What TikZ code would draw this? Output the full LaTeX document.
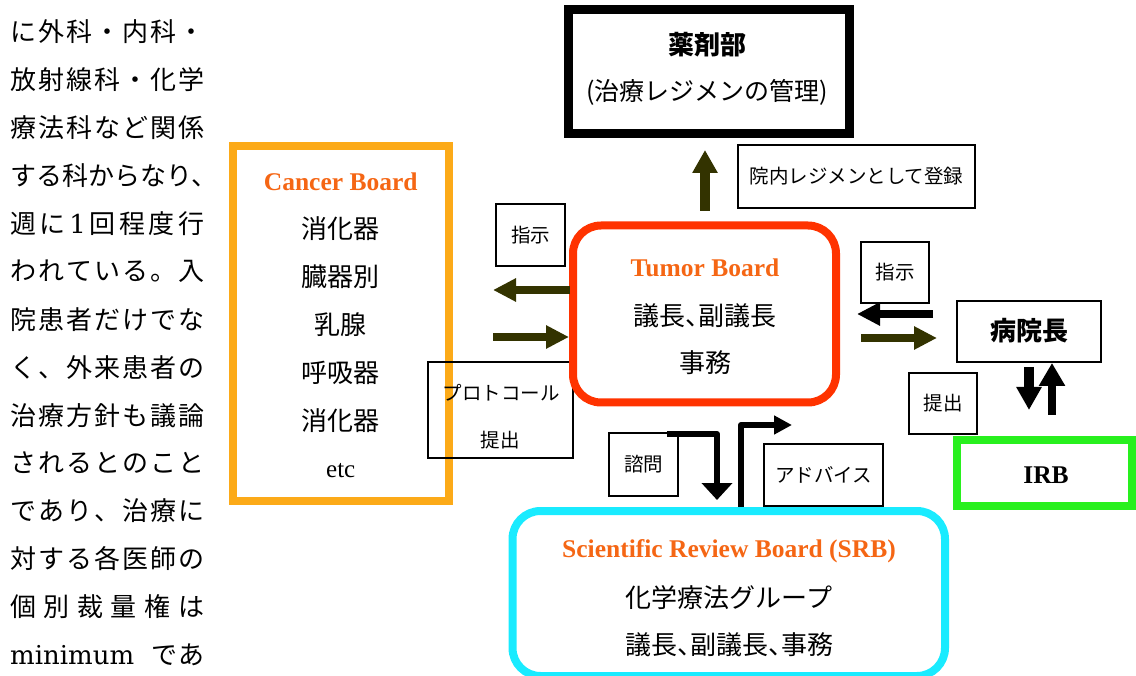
\documentclass[tikz,border=0pt]{standalone}
\usepackage{fontspec}
\setmainfont{Liberation Serif}
\newfontfamily\jp{Noto Sans CJK JP}
\newfontfamily\dvs{DejaVu Serif}
\usetikzlibrary{arrows.meta}
\definecolor{olv}{RGB}{51,51,0}
\definecolor{hdorange}{RGB}{245,102,20}
\definecolor{cborange}{RGB}{252,170,24}
\definecolor{tbred}{RGB}{255,51,0}
\definecolor{irbgreen}{RGB}{40,240,30}
\definecolor{srbcyan}{RGB}{25,235,255}
\newcommand\myfs[1]{\fontsize{#1}{#1}\selectfont}
\newcommand\jl[1]{\makebox[194pt][s]{#1}}
\newcommand\hc{{\addfontfeature{RawFeature=+halt}、}}
\begin{document}
\begin{tikzpicture}[x=1pt,y=-1pt,
  lbl/.style={draw,line width=1.4pt,inner sep=0pt,font=\jp\myfs{19.5}},
  bigbox/.style={draw,inner sep=0pt},
  jt/.style={font=\jp\myfs{26},inner sep=0pt},
  jtb/.style={font=\jp\bfseries\myfs{26},inner sep=0pt},
  jsm/.style={font=\jp\myfs{19.5},inner sep=0pt},
  head/.style={font=\bfseries\myfs{25.5},text=hdorange,inner sep=0pt},
  colline/.style={font=\jp\myfs{26},inner sep=0pt,anchor=west},
  oarrow/.style={draw=olv,line width=8pt,-{Triangle[length=23pt,width=22pt]}},
  karrow/.style={draw=black,line width=8pt,-{Triangle[length=23pt,width=22pt]}},
  thinarrow/.style={draw=black,line width=6pt,line join=round}
]
\useasboundingbox (0,0) rectangle (1136,676);

% ---- left text column
\node[colline] (l1) at (10,32) {\jl{に\hfil 外\hfil 科\hfil ・\hfil 内\hfil 科\hfil ・}};
\node[colline] (l2) at (10,79.9) {\jl{放\hfil 射\hfil 線\hfil 科\hfil ・\hfil 化\hfil 学}};
\node[colline] (l3) at (10,127.8) {\jl{療\hfil 法\hfil 科\hfil な\hfil ど\hfil 関\hfil 係}};
\node[colline] (l4) at (10,175.7) {する科からなり、};
\node[colline] (l5) at (10,223.6) {\jl{週\hfil に\hfil {\dvs 1}\hfil 回\hfil 程\hfil 度\hfil 行}};
\node[colline] (l6) at (10,271.5) {\jl{わ\hfil れ\hfil て\hfil い\hfil る\hfil 。\hfil 入}};
\node[colline] (l7) at (10,319.4) {\jl{院\hfil 患\hfil 者\hfil だ\hfil け\hfil で\hfil な}};
\node[colline] (l8) at (10,367.3) {\jl{く\hfil 、\hfil 外\hfil 来\hfil 患\hfil 者\hfil の}};
\node[colline] (l9) at (10,415.2) {\jl{治\hfil 療\hfil 方\hfil 針\hfil も\hfil 議\hfil 論}};
\node[colline] (l10) at (10,463.1) {\jl{さ\hfil れ\hfil る\hfil と\hfil の\hfil こ\hfil と}};
\node[colline] (l11) at (10,511) {\jl{で\hfil あ\hfil り\hfil 、\hfil 治\hfil 療\hfil に}};
\node[colline] (l12) at (10,558.9) {\jl{対\hfil す\hfil る\hfil 各\hfil 医\hfil 師\hfil の}};
\node[colline] (l13) at (10,606.8) {\jl{個\hfil 別\hfil 裁\hfil 量\hfil 権\hfil は}};
\node[colline] (l14) at (10,654.7) {\jl{{\dvs minimum}\hfil で\kern1pt あ}};

% ---- Cancer Board
\node[bigbox,draw=cborange,line width=8pt,minimum width=216.5,minimum height=354.5] (cancer) at (340.75,323.75) {};
\node[head] (cbh) at (340.75,182) {Cancer Board};
\node[jt] (cb1) at (340.75,229) {消化器};
\node[jt] (cb2) at (340.75,277) {臓器別};
\node[jt] (cb3) at (340.75,325) {乳腺};
\node[jt] (cb4) at (340.75,373) {呼吸器};
\node[jt] (cb5) at (340.75,421) {消化器};
\node[font=\myfs{25},inner sep=0pt] (cb6) at (340.75,471) {etc};

% ---- protocol box
\node[lbl,minimum width=145,minimum height=96] (proto) at (500.5,410) {};
\node[jsm] (proto1) at (501,393) {プロトコール};
\node[jsm] (proto2) at (500,440) {提出};

% ---- Pharmacy
\node[bigbox,line width=9pt,minimum width=281.5,minimum height=124] (yaku) at (708.75,72) {};
\node[jtb] (yaku1) at (707,45) {薬剤部};
\node[font=\jp\myfs{25},inner sep=0pt] (yaku2) at (707,92) {(治療レジメンの管理)};

\node[lbl,minimum width=237,minimum height=63] (touroku) at (856.5,176.5) {院内レジメンとして登録};
\coordinate (u1s) at (705,211);
\coordinate (u1e) at (705,150);
\draw[draw=olv,line width=10pt,-{Triangle[length=23pt,width=24pt]}] (u1s) -- (u1e);

% ---- Tumor Board
\node[bigbox,draw=tbred,line width=8pt,rounded corners=28pt,minimum width=263,minimum height=177] (tumor) at (704.5,314) {};
\node[head] (tbh) at (705,268) {Tumor Board};
\node[jt] (tb1) at (705,316) {議長\hc 副議長};
\node[jt] (tb2) at (705,363) {事務};

\node[lbl,minimum width=69,minimum height=62] (shiji1) at (530.5,235) {指示};
\coordinate (la1s) at (570,290);
\coordinate (la1e) at (493,290);
\coordinate (la2s) at (493,337);
\coordinate (la2e) at (569,337);
\draw[oarrow] (la1s) -- (la1e);
\draw[oarrow] (la2s) -- (la2e);

% ---- right side
\node[lbl,minimum width=68,minimum height=61] (shiji2) at (895,272.5) {指示};
\coordinate (ra1s) at (933,314);
\coordinate (ra1e) at (857,314);
\coordinate (ra2s) at (861,338);
\coordinate (ra2e) at (937,338);
\draw[karrow] (ra1s) -- (ra1e);
\draw[oarrow] (ra2s) -- (ra2e);

\node[draw,line width=2pt,inner sep=0pt,minimum width=144,minimum height=61] (byoin) at (1029,331.5) {};
\node[jtb] (byoin1) at (1029,331) {病院長};

\coordinate (d1s) at (1029,367);
\coordinate (d1e) at (1029,410);
\coordinate (d2s) at (1052,415);
\coordinate (d2e) at (1052,363);
\draw[draw=black,line width=10pt,-{Triangle[length=23pt,width=24pt]}] (d1s) -- (d1e);
\draw[draw=black,line width=8pt,-{Triangle[length=23pt,width=25pt]}] (d2s) -- (d2e);

\node[lbl,minimum width=68,minimum height=61] (teishutsu) at (943,403.5) {提出};

\node[bigbox,draw=irbgreen,line width=8pt,minimum width=175,minimum height=66] (irb) at (1044.5,473) {};
\node[font=\bfseries\myfs{25.5},inner sep=0pt] (irb1) at (1046,475) {IRB};

% ---- bottom
\node[lbl,minimum width=69,minimum height=63] (shimon) at (643.5,464.5) {諮問};
\node[lbl,minimum width=119,minimum height=62] (advice) at (823.5,475) {アドバイス};
\coordinate (s1s) at (667,434);
\coordinate (s1e) at (717,500);
\draw[thinarrow,-{Triangle[length=17pt,width=30pt]}] (s1s) -| (s1e);
\coordinate (a2s) at (741,507);
\coordinate (a2e) at (792,425);
\draw[thinarrow,-{Triangle[length=18pt,width=18pt]}] (a2s) |- (a2e);

\node[bigbox,draw=srbcyan,line width=8pt,rounded corners=28pt,minimum width=432.5,minimum height=165] (srb) at (728.75,593.5) {};
\node[head] (srbh) at (729,551) {Scientific Review Board (SRB)};
\node[jt] (srb1) at (729,598) {化学療法グループ};
\node[jt] (srb2) at (729,645) {議長\hc 副議長\hc 事務};
\end{tikzpicture}
\end{document}
